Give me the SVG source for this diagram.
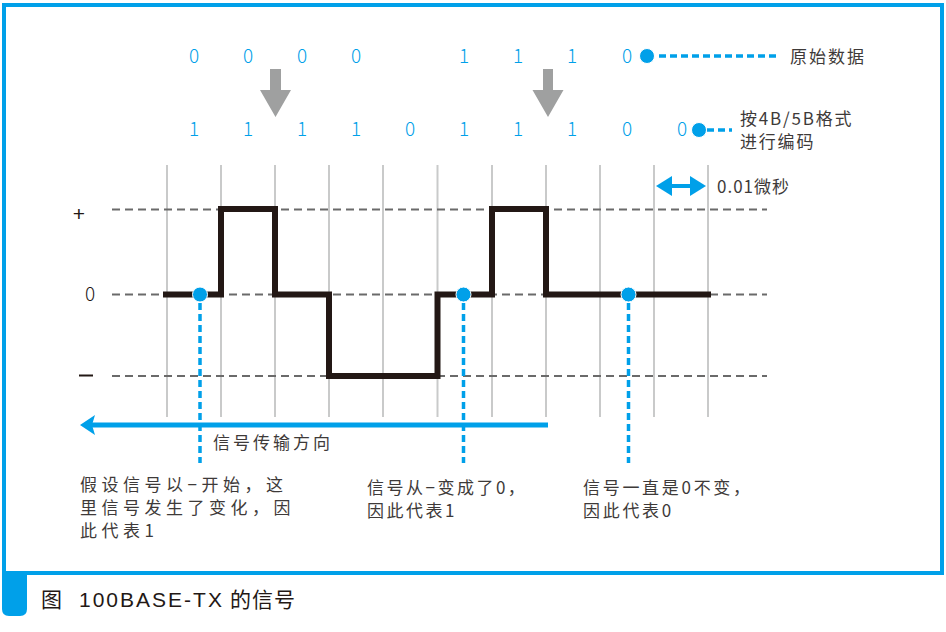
<svg xmlns="http://www.w3.org/2000/svg" width="946" height="632" viewBox="0 0 946 632">
<defs>
<style>
.cjk{font-family:"Noto Sans CJK SC","Liberation Sans",sans-serif;}
.bit{font-family:"Noto Sans CJK SC","Liberation Sans",sans-serif;font-size:19px;font-weight:300;fill:#00a0e9;text-anchor:middle;}
.lbl{font-family:"Noto Sans CJK SC","Liberation Sans",sans-serif;font-size:17px;fill:#3e3a39;}
.grid{stroke:#c9caca;stroke-width:2;}
.lvl{stroke:#6a6a6a;stroke-width:2;stroke-dasharray:8 5;fill:none;}
.bdot{fill:#00a0e9;stroke:#fff;stroke-width:1;}
.bdash{stroke:#00a0e9;stroke-width:3.5;stroke-dasharray:7 4;fill:none;}
.garrow{fill:#9fa0a0;}
</style>
</defs>
<rect x="0" y="0" width="946" height="632" fill="#fff"/>
<g id="frame">
<rect x="4" y="5" width="938" height="568" fill="none" stroke="#00a0e9" stroke-width="4"/>
<path d="M2,573 H27 V609 Q27,616 20,616 H9 Q2,616 2,609 Z" fill="#00a0e9"/>
<text x="41" y="607" font-family="'Liberation Sans', 'Noto Sans CJK SC', sans-serif" font-size="21" fill="#231815">图<tspan x="79" letter-spacing="2">100BASE-TX</tspan><tspan x="230" letter-spacing="1">的信号</tspan></text>
</g>
<g id="grid">
<line class="grid" x1="167" y1="165" x2="167" y2="417"/>
<line class="grid" x1="221" y1="165" x2="221" y2="417"/>
<line class="grid" x1="275" y1="165" x2="275" y2="417"/>
<line class="grid" x1="329" y1="165" x2="329" y2="417"/>
<line class="grid" x1="383" y1="165" x2="383" y2="417"/>
<line class="grid" x1="437.5" y1="165" x2="437.5" y2="417"/>
<line class="grid" x1="492" y1="165" x2="492" y2="417"/>
<line class="grid" x1="546" y1="165" x2="546" y2="417"/>
<line class="grid" x1="600" y1="165" x2="600" y2="417"/>
<line class="grid" x1="654" y1="165" x2="654" y2="417"/>
<line class="grid" x1="708" y1="165" x2="708" y2="417"/>
<line class="lvl" x1="112" y1="209.5" x2="767" y2="209.5"/>
<line class="lvl" x1="112" y1="294.5" x2="767" y2="294.5"/>
<line class="lvl" x1="112" y1="376" x2="767" y2="376"/>
<text x="79" y="221" font-family="'Liberation Sans', sans-serif" font-size="21" fill="#231815" text-anchor="middle">+</text>
<text x="90" y="301" class="cjk" font-size="19" font-weight="300" fill="#231815" text-anchor="middle">0</text>
<line x1="79" y1="375.5" x2="93" y2="375.5" stroke="#231815" stroke-width="2"/>
</g>
<g id="bits">
<text class="bit" x="194" y="63">0</text>
<text class="bit" x="248" y="63">0</text>
<text class="bit" x="302" y="63">0</text>
<text class="bit" x="356" y="63">0</text>
<text class="bit" x="464" y="63">1</text>
<text class="bit" x="518" y="63">1</text>
<text class="bit" x="572" y="63">1</text>
<text class="bit" x="627" y="63">0</text>
<text class="bit" x="194" y="136">1</text>
<text class="bit" x="248" y="136">1</text>
<text class="bit" x="302" y="136">1</text>
<text class="bit" x="356" y="136">1</text>
<text class="bit" x="410" y="136">0</text>
<text class="bit" x="464" y="136">1</text>
<text class="bit" x="518" y="136">1</text>
<text class="bit" x="572" y="136">1</text>
<text class="bit" x="627" y="136">0</text>
<text class="bit" x="682" y="136">0</text>
</g>
<g id="conv-arrows">
<polygon class="garrow" points="270,69 281,69 281,90 291,90 275.5,117 260,90 270,90"/>
<polygon class="garrow" points="543,69 553,69 553,90 563.5,90 548,117 532.5,90 543,90"/>
</g>
<g id="legend-raw">
<line class="bdash" x1="659" y1="56" x2="779" y2="56"/>
<circle class="bdot" cx="647" cy="56" r="7.5"/>
<text x="790" y="63" class="lbl" font-size="18" letter-spacing="2">原始数据</text>
</g>
<g id="legend-coded">
<line class="bdash" x1="707" y1="130" x2="732" y2="130"/>
<circle class="bdot" cx="699" cy="130" r="7.5"/>
<text x="740" y="125" class="lbl" font-size="18" letter-spacing="1.8">按4B/5B格式</text>
<text x="740" y="148" class="lbl" font-size="18" letter-spacing="1.8">进行编码</text>
</g>
<g id="time-scale">
<path d="M664,186 H698" stroke="#00a0e9" stroke-width="4"/>
<polygon points="656,186 672,176 672,196" fill="#00a0e9"/>
<polygon points="706,186 690,176 690,196" fill="#00a0e9"/>
<text x="717" y="193" class="lbl" font-size="19" letter-spacing="1">0.01微秒</text>
</g>
<g id="waveform">
<path d="M163,294.5 H221 V209 H275 V294.5 H329 V376 H437.5 V294.5 H492 V209 H546 V294.5 H711" fill="none" stroke="#231815" stroke-width="6"/>
</g>
<g id="connectors">
<line class="bdash" x1="200" y1="303" x2="200" y2="463"/>
<line class="bdash" x1="463.5" y1="303" x2="463.5" y2="463"/>
<line class="bdash" x1="628.5" y1="303" x2="628.5" y2="463"/>
<line x1="92" y1="425" x2="548" y2="425" stroke="#00a0e9" stroke-width="5"/>
<polygon points="80,425 95,415 92,425 95,435" fill="#00a0e9"/>
</g>
<g id="dots">
<circle class="bdot" cx="200" cy="294.5" r="7.5"/>
<circle class="bdot" cx="463.5" cy="294.5" r="7.5"/>
<circle class="bdot" cx="628.5" cy="294.5" r="7.5"/>
</g>
<g id="direction-label">
<text x="213" y="449" class="lbl" letter-spacing="3">信号传输方向</text>
</g>
<g id="note1">
<text x="80" y="491" class="lbl" letter-spacing="4.5">假设信号以−开始，这</text>
<text x="80" y="514" class="lbl" letter-spacing="4.5">里信号发生了变化，因</text>
<text x="80" y="537" class="lbl" letter-spacing="4.5">此代表1</text>
</g>
<g id="note2">
<text x="367" y="494" class="lbl" letter-spacing="2.5">信号从−变成了0，</text>
<text x="367" y="517" class="lbl" letter-spacing="2.5">因此代表1</text>
</g>
<g id="note3">
<text x="583" y="494" class="lbl" letter-spacing="2.7">信号一直是0不变，</text>
<text x="583" y="517" class="lbl" letter-spacing="2.7">因此代表0</text>
</g>
</svg>
